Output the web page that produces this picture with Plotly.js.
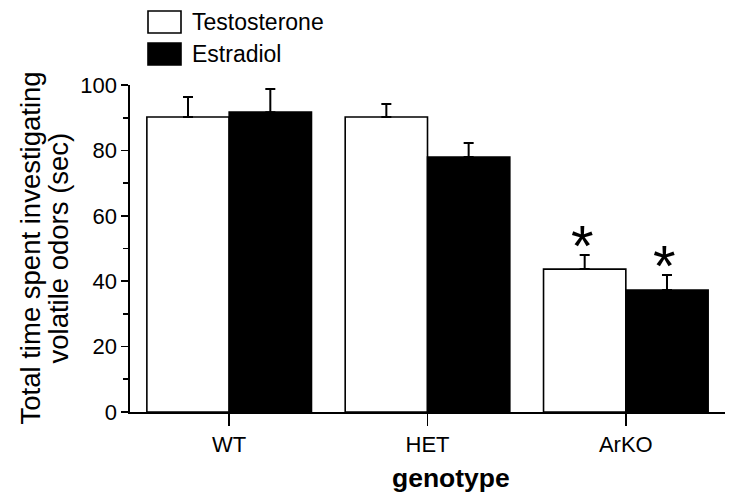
<!DOCTYPE html>
<html>
<head>
<meta charset="utf-8">
<script src="https://cdn.plot.ly/plotly-3.0.1.min.js"></script>
<style>html,body{margin:0;padding:0;background:#fff;}#chart{width:729px;height:501px;}</style>
</head>
<body>
<div id="chart"></div>
<script>
var genotypes = ['WT', 'HET', 'ArKO'];
var testosterone = [90.2, 90.2, 43.7];
var testosteroneErr = [6.1, 4.0, 4.3];
var estradiol = [91.7, 78.0, 37.3];
var estradiolErr = [7.1, 4.3, 4.6];
var testosteroneSig = ['', '', '*'];
var estradiolSig = ['', '', '*'];
var seriesNames = ['Testosterone', 'Estradiol'];
var yTicks = [0, 20, 40, 60, 80, 100];
var yTitleLines = ['Total time spent investigating', 'volatile odors (sec)'];
var xTitle = 'genotype';

var FONT = 'Liberation Sans, Arial, sans-serif';

var traces = [
  {
    type: 'bar', name: seriesNames[0], x: genotypes, y: testosterone,
    marker: {color: '#ffffff', line: {color: '#000000', width: 1.6}},
    error_y: {type: 'data', symmetric: false, array: testosteroneErr,
      arrayminus: testosteroneErr.map(function(){return 0;}),
      color: '#000000', thickness: 2, width: 5},
    showlegend: false, hoverinfo: 'none'
  },
  {
    type: 'bar', name: seriesNames[1], x: genotypes, y: estradiol,
    marker: {color: '#000000', line: {color: '#000000', width: 1.6}},
    error_y: {type: 'data', symmetric: false, array: estradiolErr,
      arrayminus: estradiolErr.map(function(){return 0;}),
      color: '#000000', thickness: 2, width: 5},
    showlegend: false, hoverinfo: 'none'
  }
];

var annotations = [];
function addSig(sig, vals, errs, shift, ys) {
  for (var i = 0; i < sig.length; i++) {
    if (!sig[i]) continue;
    annotations.push({
      x: genotypes[i], y: vals[i] + errs[i], xref: 'x', yref: 'y',
      text: sig[i], showarrow: false, xanchor: 'center', yanchor: 'bottom',
      xshift: shift, yshift: ys,
      font: {family: FONT, size: 58, color: '#000'}
    });
  }
}
addSig(testosteroneSig, testosterone, testosteroneErr, -43, -25);
addSig(estradiolSig, estradiol, estradiolErr, 39, -25);

// y-axis title (two lines)
annotations.push({
  xref: 'paper', yref: 'paper', x: 0, y: 0.5, xshift: -100, text: yTitleLines[0],
  textangle: -90, showarrow: false, xanchor: 'center', yanchor: 'middle',
  font: {family: FONT, size: 27.5, color: '#000'}
});
annotations.push({
  xref: 'paper', yref: 'paper', x: 0, y: 0.5, xshift: -72, text: yTitleLines[1],
  textangle: -90, showarrow: false, xanchor: 'center', yanchor: 'middle',
  font: {family: FONT, size: 27.5, color: '#000'}
});

var W = 595, H = 327;
function px(x) { return (x - 130) / W; }
function py(y) { return (412 - y) / H; }

// x-axis title
annotations.push({xref: 'paper', yref: 'paper', x: px(451), y: py(478), text: '<b>' + xTitle + '</b>',
  showarrow: false, xanchor: 'center', yanchor: 'middle', font: {family: FONT, size: 26.5, color: '#000'}});

// legend text
annotations.push({xref: 'paper', yref: 'paper', x: px(190), y: py(22), text: seriesNames[0],
  showarrow: false, xanchor: 'left', yanchor: 'middle', font: {family: FONT, size: 23, color: '#000'}});
annotations.push({xref: 'paper', yref: 'paper', x: px(190), y: py(54), text: seriesNames[1],
  showarrow: false, xanchor: 'left', yanchor: 'middle', font: {family: FONT, size: 23, color: '#000'}});

var shapes = [
  {type: 'rect', xref: 'paper', yref: 'paper', x0: px(148), x1: px(181), y0: py(33), y1: py(11),
   line: {color: '#000', width: 1.6}, fillcolor: '#fff'},
  {type: 'rect', xref: 'paper', yref: 'paper', x0: px(148), x1: px(181), y0: py(65), y1: py(43),
   line: {color: '#000', width: 1.6}, fillcolor: '#000'}
];

var layout = {
  width: 729, height: 501,
  margin: {l: 130, r: 4, t: 85, b: 89, pad: 0},
  paper_bgcolor: '#ffffff', plot_bgcolor: '#ffffff',
  barmode: 'group', bargap: 0.17, bargroupgap: 0,
  showlegend: false,
  font: {family: FONT, color: '#000'},
  xaxis: {
    type: 'category', range: [-0.5, 2.5],
    showline: true, linecolor: '#000', linewidth: 1.6,
    ticks: 'outside', ticklen: 12, tickwidth: 1.6, tickcolor: '#000',
    showgrid: false, zeroline: false,
    tickfont: {family: FONT, size: 22, color: '#000'}
  },
  yaxis: {
    range: [0, 100], tickvals: yTicks, ticktext: yTicks.map(String),
    showline: true, linecolor: '#000', linewidth: 1.6,
    ticks: 'outside', ticklen: 7, tickwidth: 1.6, tickcolor: '#000',
    minor: {dtick: 10, tick0: 10, ticks: 'outside', ticklen: 5, tickwidth: 1.6, tickcolor: '#000', showgrid: false},
    showgrid: false, zeroline: false,
    tickfont: {family: FONT, size: 22, color: '#000'}
  },
  annotations: annotations,
  shapes: shapes
};

Plotly.newPlot('chart', traces, layout, {staticPlot: true, displayModeBar: false});
</script>
</body>
</html>
